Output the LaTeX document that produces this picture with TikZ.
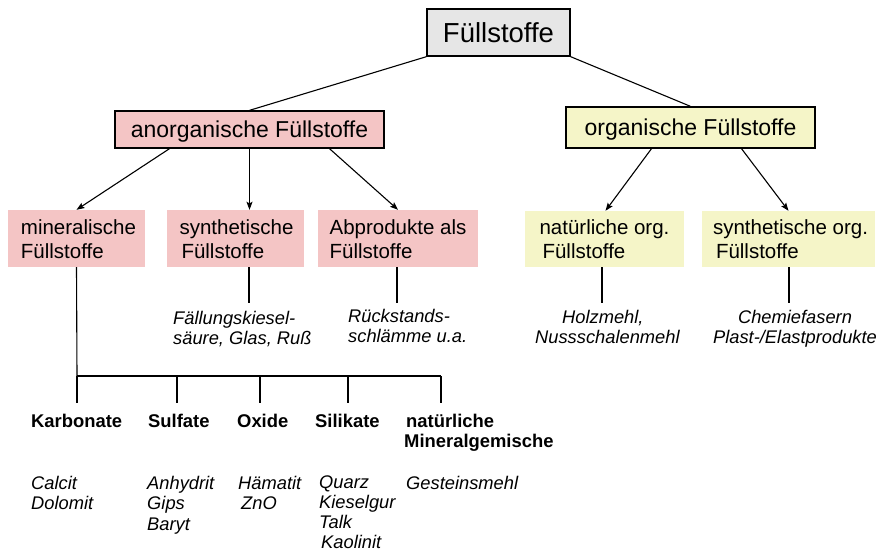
\documentclass[tikz,border=0pt]{standalone}
\usepackage{fontspec}
\setmainfont{Liberation Sans}
\usetikzlibrary{arrows.meta}

\definecolor{rootfill}{RGB}{230,230,230}
\definecolor{anorgfill}{RGB}{244,197,197}
\definecolor{orgfill}{RGB}{245,245,200}

\tikzset{
  boxbase/.style={rectangle, inner sep=0pt, align=left},
  rootbox/.style={boxbase, draw, line width=1.4pt, fill=rootfill,
    text height=19pt, text depth=0pt,
    font=\fontsize{27.5}{30}\selectfont},
  anorgmain/.style={boxbase, draw, line width=1.3pt, fill=anorgfill,
    text height=16pt, text depth=0pt,
    font=\fontsize{23}{26}\selectfont},
  orgmain/.style={boxbase, draw, line width=1.3pt, fill=orgfill,
    text height=16pt, text depth=0pt,
    font=\fontsize{23}{26}\selectfont},
  anorgsub/.style={boxbase, fill=anorgfill, text height=39pt, text depth=0pt,
    font=\fontsize{20.5}{24}\selectfont},
  orgsub/.style={boxbase, fill=orgfill, text height=39pt, text depth=0pt,
    font=\fontsize{20.5}{24}\selectfont},
  grouplabel/.style={inner sep=0pt, anchor=base west, align=left,
    font=\bfseries\fontsize{18.4}{20}\selectfont},
  examples/.style={inner sep=0pt, anchor=base west, align=left,
    font=\itshape\fontsize{18.3}{20.5}\selectfont},
  link/.style={line width=1.1pt},
  arrowlink/.style={line width=1.1pt, -{Stealth[length=8pt,width=6pt,inset=1.5pt]}}
}

\begin{document}
\begin{tikzpicture}[x=1pt,y=-1pt]
\useasboundingbox (0,0) rectangle (879,552);

% top level
\node[rootbox, minimum width=143pt, minimum height=47pt] (root) at (498.5,32.5) {Füllstoffe};

% main groups
\node[anorgmain, minimum width=269pt, minimum height=37pt] (anorg) at (249.5,129.5) {anorganische Füllstoffe};
\node[orgmain, minimum width=249pt, minimum height=41pt] (org) at (690.5,127.5) {organische Füllstoffe};

% subgroups
\node[anorgsub, minimum width=137pt, minimum height=57pt] (miner) at (76.5,238.5) {\hspace*{4pt}mineralische\\\hspace*{4pt}Füllstoffe};
\node[anorgsub, minimum width=137pt, minimum height=57pt] (synth) at (235.5,238.5) {\hspace*{2pt}synthetische\\\hspace*{4pt}Füllstoffe};
\node[anorgsub, minimum width=160pt, minimum height=57pt] (abpro) at (398,238.5) {Abprodukte als\\Füllstoffe};
\node[orgsub, minimum width=159pt, minimum height=56pt] (natorg) at (604.5,239) {natürliche org.\\\hspace*{3pt}Füllstoffe};
\node[orgsub, minimum width=173pt, minimum height=56pt] (synorg) at (788.5,239) {\hspace*{4pt}synthetische org.\\\hspace*{7pt}Füllstoffe};

% connectors between levels
\draw[link] (root.south west) -- (anorg.north);
\draw[link] (root.south east) -- (org.north);
\draw[arrowlink] ([xshift=-80pt]anorg.south) -- (miner.north);
\draw[arrowlink] (anorg.south) -- (anorg.south |- synth.north);
\draw[arrowlink] ([xshift=80pt]anorg.south) -- (abpro.north);
\draw[arrowlink] ([xshift=-39pt]org.south) -- ([xshift=1pt]natorg.north);
\draw[arrowlink] ([xshift=51pt]org.south) -- (synorg.north);

% examples below the subgroups (anchored at the baseline of the last line)
\node[examples] (fall) at (173,344.5) {Fällungskiesel-\\säure, Glas, Ruß};
\node[examples] (rueck) at (348,342.5) {Rückstands-\\schlämme u.a.};
\node[examples] (holz) at (535,343.5) {\hspace*{27pt}Holzmehl,\\Nussschalenmehl};
\node[inner sep=0pt, anchor=base, align=center, font=\itshape\fontsize{18.3}{20.5}\selectfont]
  (chemie) at (795,343.5) {Chemiefasern\\Plast-/Elastprodukte};

\coordinate (fallTop) at (249,303);
\coordinate (rueckTop) at (397,303);
\coordinate (holzTop) at (602,303);
\coordinate (chemieTop) at (789,303);
\draw[link] (synth.south -| fallTop) -- (fallTop);
\draw[link] (abpro.south -| rueckTop) -- (rueckTop);
\draw[link] (natorg.south -| holzTop) -- (holzTop);
\draw[link] (synorg.south -| chemieTop) -- (chemieTop);

% mineral classes
\coordinate (busK) at (77,376);
\coordinate (busS) at (177,376);
\coordinate (busO) at (260,376);
\coordinate (busSi) at (348,376);
\coordinate (busN) at (441,376);
\coordinate (dropK) at (77,403);
\coordinate (dropS) at (177,403);
\coordinate (dropO) at (260,403);
\coordinate (dropSi) at (348,403);
\coordinate (dropN) at (441,403);

\draw[link] (miner.south) -- (busK);
\draw[link] (busK) -- (busN);
\draw[link] (busK) -- (dropK);
\draw[link] (busS) -- (dropS);
\draw[link] (busO) -- (dropO);
\draw[link] (busSi) -- (dropSi);
\draw[link] (busN) -- (dropN);

\node[grouplabel] (karb) at (31,427) {Karbonate};
\node[grouplabel] (sulf) at (148,427) {Sulfate};
\node[grouplabel] (oxid) at (237,427) {Oxide};
\node[grouplabel] (sili) at (315,427) {Silikate};
\node[grouplabel] (natmin) at (404,447) {\hspace*{2pt}natürliche\\Mineralgemische};

\node[examples] (karbex) at (31,509.5) {Calcit\\Dolomit};
\node[examples] (sulfex) at (147,530) {Anhydrit\\Gips\\Baryt};
\node[examples] (oxidex) at (238,509.5) {Hämatit\\\hspace*{3pt}ZnO};
\node[examples, font=\itshape\fontsize{18.3}{20}\selectfont] (siliex) at (319,548.5) {Quarz\\Kieselgur\\Talk\\\hspace*{2pt}Kaolinit};
\node[examples] (natminex) at (406,489) {Gesteinsmehl};
\end{tikzpicture}
\end{document}
